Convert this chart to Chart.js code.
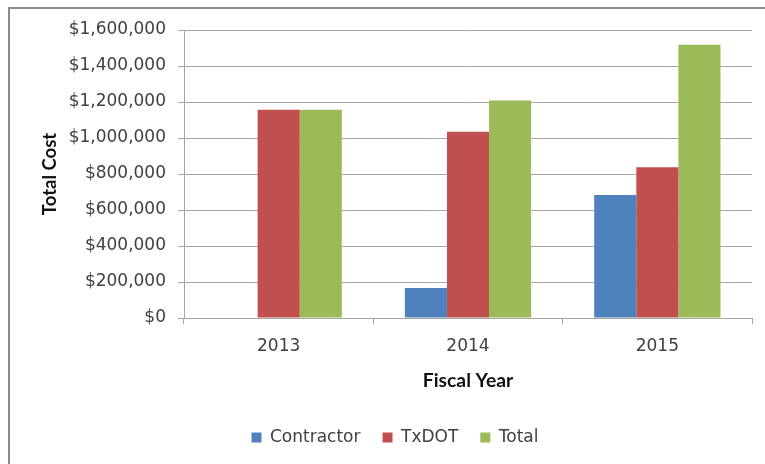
<!DOCTYPE html>
<html>
<head>
<meta charset="utf-8">
<script src="https://cdn.jsdelivr.net/npm/chart.js@4/dist/chart.umd.min.js"></script>
<style>
  html, body { margin: 0; padding: 0; background: #fff; }
  #wrap { position: relative; width: 765px; height: 464px; overflow: hidden; }
  #frame { position: absolute; left: 8px; top: 7px; right: -10px; bottom: -10px;
           border-left: 2px solid #8c8c8c; border-top: 2px solid #8c8c8c; }
  canvas { position: absolute; left: 0; top: 0; }
</style>
</head>
<body>
<div id="wrap">
  <div id="frame"></div>
  <canvas id="c" width="765" height="464"></canvas>
</div>
<script>
const years      = ['2013', '2014', '2015'];
const contractor = [0, 167000, 683000];
const txdot      = [1157000, 1035000, 837000];
const total      = [1157000, 1208000, 1518000];

const yTicks = [0, 200000, 400000, 600000, 800000, 1000000, 1200000, 1400000, 1600000];

const font  = '"DejaVu Sans", sans-serif';
const bold  = 'Lato, "Open Sans", sans-serif';
const gridC = '#a6a6a6';
const txt   = '#404040';

Chart.defaults.font.family = font;

// nudge the legend right, Excel centres it a bit off the chart middle
const legendShift = {
  id: 'legendShift',
  afterLayout(chart) {
    chart.legend.left += 19;
    chart.legend.right += 19;
  }
};

new Chart(document.getElementById('c'), {
  type: 'bar',
  data: {
    labels: years,
    datasets: [
      { label: 'Contractor', data: contractor, backgroundColor: '#4f81bd' },
      { label: 'TxDOT',      data: txdot,      backgroundColor: '#c0504d' },
      { label: 'Total',      data: total,      backgroundColor: '#9bbb59' }
    ]
  },
  plugins: [legendShift],
  options: {
    responsive: false,
    animation: false,
    layout: { padding: { left: 0, right: 13, top: 30, bottom: 8 } },
    datasets: { bar: { categoryPercentage: 0.667, barPercentage: 1.0, borderWidth: 0 } },
    plugins: {
      tooltip: { enabled: false },
      legend: {
        position: 'bottom',
        labels: {
          boxWidth: 10, boxHeight: 10, padding: 22, color: txt,
          font: { size: 17, family: font }
        }
      }
    },
    scales: {
      x: {
        grid: { offset: true, drawOnChartArea: false, drawTicks: true, tickLength: 6, color: gridC },
        border: { color: gridC },
        ticks: { color: txt, padding: 12, font: { size: 17 } },
        title: { display: true, text: 'Fiscal Year', color: '#111', font: { family: bold, size: 19.3, weight: 'bold' }, padding: { top: 0, bottom: 15 } },
        afterFit: s => { s.height = 89; }
      },
      y: {
        min: 0, max: 1600000,
        afterBuildTicks: s => { s.ticks = yTicks.map(v => ({ value: v })); },
        grid: { color: gridC, tickLength: 6 },
        border: { color: gridC },
        ticks: {
          color: txt, padding: 12, font: { size: 17 },
          callback: v => '$' + Number(v).toLocaleString('en-US')
        },
        title: { display: true, text: 'Total Cost', color: '#111', font: { family: bold, size: 18.5, weight: 'bold' }, padding: { top: 39, bottom: 0 } },
        afterFit: s => { s.width = 184; }
      }
    }
  }
});
</script>
</body>
</html>
